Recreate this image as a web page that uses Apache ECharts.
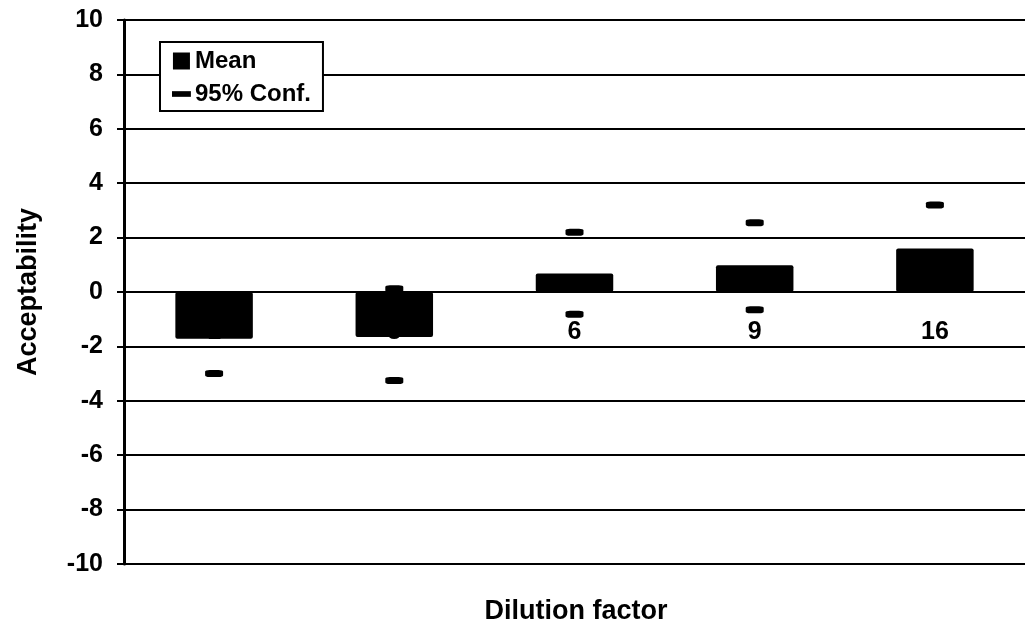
<!DOCTYPE html>
<html>
<head>
<meta charset="utf-8">
<script src="https://cdn.jsdelivr.net/npm/echarts@6/dist/echarts.min.js"></script>
<style>
  html, body { margin: 0; padding: 0; background: #fff; }
  #chart { width: 1025px; height: 637px; }
</style>
</head>
<body>
<div id="chart"></div>
<script>
// dilution factors (first two labels sit behind the bars)
const categories = ["1", "3", "6", "9", "16"];
const meanValues = [-1.72, -1.65, 0.68, 0.98, 1.6];
const confUpper = [-0.45, 0.12, 2.2, 2.55, 3.2];
const confLower = [-3.0, -3.25, -0.82, -0.65, 0.1];
const yTicks = { min: -10, max: 10, step: 2 };

const FONT = '"Liberation Sans", Arial, sans-serif';

// both ends of the interval go into one scatter series
const confData = categories.map((c, i) => [c, confUpper[i]])
  .concat(categories.map((c, i) => [c, confLower[i]]));

let myChart = echarts.init(document.getElementById("chart"));
myChart.setOption({
  animation: false,
  backgroundColor: "#fff",
  textStyle: { fontFamily: FONT, color: "#000" },
  grid: { left: 124, right: 0, top: 20, bottom: 73 },
  title: {
    text: "Dilution factor",
    left: 576,
    top: 598,
    padding: 0,
    textAlign: "center",
    textStyle: { fontFamily: FONT, fontSize: 27, fontWeight: "bold", color: "#000" }
  },
  legend: {
    orient: "vertical",
    left: 160,
    top: 42,
    padding: [7, 12, 5, 12],
    itemGap: 9,
    itemWidth: 21,
    itemHeight: 17,
    borderColor: "#000",
    borderWidth: 2,
    backgroundColor: "#fff",
    textStyle: { fontFamily: FONT, fontSize: 24, fontWeight: "bold", color: "#000", padding: [0, 0, 0, -2] },
    data: [
      { name: "Mean", icon: "path://M0,0h18v18H0z" },
      { name: "95% Conf.", icon: "path://M0,0 M0,6h20v6H0z M20,18" }
    ]
  },
  xAxis: {
    type: "category",
    data: categories,
    position: "bottom",
    offset: -272,
    axisLine: { onZero: false, lineStyle: { color: "#000", width: 2 } },
    axisTick: { show: false },
    axisLabel: { fontFamily: FONT, fontSize: 25, fontWeight: "bold", color: "#000", margin: 28 },
    splitLine: { show: false }
  },
  yAxis: {
    type: "value",
    min: yTicks.min,
    max: yTicks.max,
    interval: yTicks.step,
    name: "Acceptability",
    nameLocation: "middle",
    nameRotate: 90,
    nameGap: 82,
    nameTextStyle: { fontFamily: FONT, fontSize: 27, fontWeight: "bold", color: "#000" },
    axisLine: { show: true, lineStyle: { color: "#000", width: 3 } },
    axisTick: { show: true, length: 7, lineStyle: { color: "#000", width: 2 } },
    axisLabel: { fontFamily: FONT, fontSize: 25, fontWeight: "bold", color: "#000", margin: 21 },
    splitLine: { show: true, lineStyle: { color: "#000", width: 2 } }
  },
  series: [
    {
      name: "Mean",
      type: "bar",
      data: meanValues,
      barWidth: "43%",
      itemStyle: { color: "#000", borderRadius: 2 },
      z: 3
    },
    {
      name: "95% Conf.",
      type: "scatter",
      data: confData,
      symbol: "roundRect",
      symbolSize: [18, 7],
      itemStyle: { color: "#000", opacity: 1 },
      z: 4
    }
  ]
});
</script>
</body>
</html>
